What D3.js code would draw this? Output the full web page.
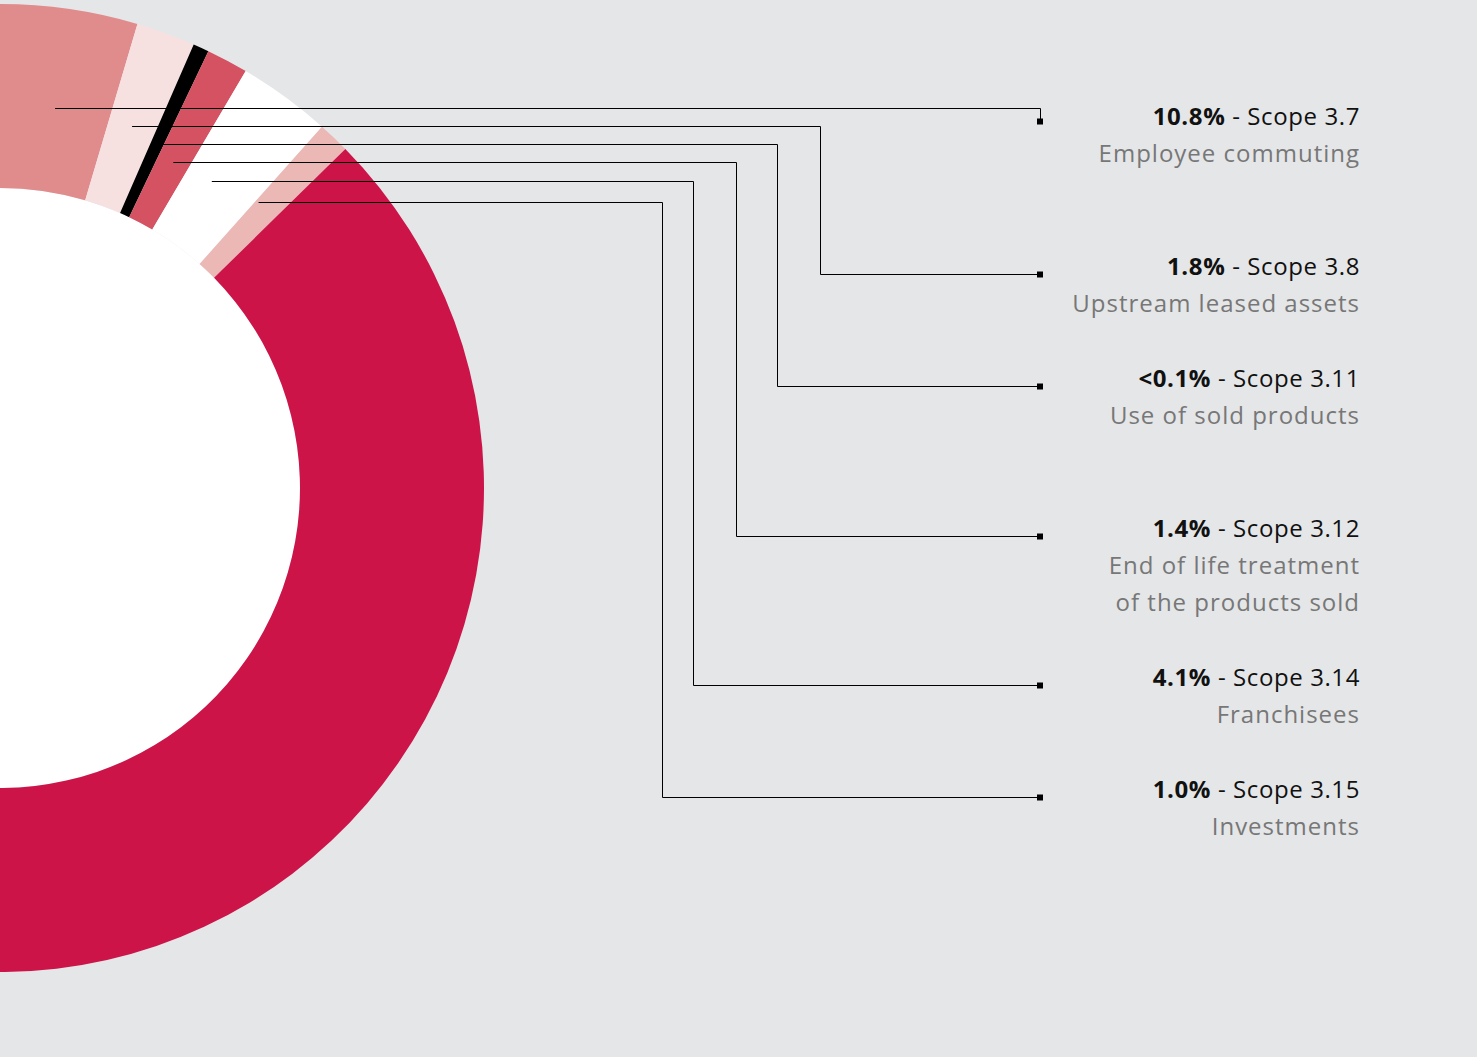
<!DOCTYPE html>
<html>
<head>
<meta charset="utf-8">
<script src="https://cdn.jsdelivr.net/npm/d3@7"></script>
<style>
  html, body { margin: 0; padding: 0; background: #e5e6e8; }
  svg { display: block; }
  text { font-family: "Open Sans", sans-serif; }
</style>
</head>
<body>
<svg id="chart"></svg>
<script>
// slice shares as drawn (percent of the ring), in ring order clockwise from the top
const categories = ['Scope 3.7', 'Scope 3.8', 'Scope 3.11', 'Scope 3.12', 'Scope 3.14', 'Scope 3.15', 'Other scopes'];
const sliceShares = [10.8, 1.97, 0.53, 1.39, 3.11, 1.06, 81.1];
const sliceColors = ['#e08b8c', '#f7e1e0', '#000000', '#d45262', '#ffffff', '#ebb8b6', '#cc1449'];

// legend texts
const pctLabels = ['10.8%', '1.8%', '<0.1%', '1.4%', '4.1%', '1.0%'];
const scopeLabels = ['Scope 3.7', 'Scope 3.8', 'Scope 3.11', 'Scope 3.12', 'Scope 3.14', 'Scope 3.15'];
const descLabels = [
  ['Employee commuting'],
  ['Upstream leased assets'],
  ['Use of sold products'],
  ['End of life treatment', 'of the products sold'],
  ['Franchisees'],
  ['Investments']
];

const W = 1477, H = 1057;
const cx = 0, cy = 488, rIn = 300, rOut = 484;
const startDeg = -22.4;

// leader layout
const runY = [108, 126, 144, 162, 181, 202];
const elbowX = [1040, 820, 777, 736, 693, 662];
const rowY = [121, 274, 386, 536, 685, 797];
const markerX = 1040, textX = 1360, lineGap = 37;

const svg = d3.select('#chart').attr('width', W).attr('height', H);
svg.append('rect').attr('width', W).attr('height', H).attr('fill', '#e5e6e8');

const rad = Math.PI / 180;
const pie = d3.pie().sort(null).value(d => d)
              .startAngle(startDeg * rad)
              .endAngle(startDeg * rad + 2 * Math.PI);
const arcs = pie(sliceShares);
const arc = d3.arc().innerRadius(rIn).outerRadius(rOut);

const ring = svg.append('g').attr('transform', `translate(${cx},${cy})`);
ring.append('circle').attr('r', rIn).attr('fill', '#ffffff');
ring.selectAll('path.slice')
    .data(arcs)
    .join('path')
    .attr('class', 'slice')
    .attr('d', arc)
    .attr('fill', (d, i) => sliceColors[i]);

// leader lines
const leaders = svg.append('g');
for (let i = 0; i < pctLabels.length; i++) {
  const a = arcs[i];
  const a0 = Math.max(a.startAngle, 0);
  const mid = (a0 + a.endAngle) / 2 - (i >= 4 ? 1.5 * rad : 0);
  const x0 = cx + (cy - runY[i]) * Math.tan(mid);
  const pts = [[x0, runY[i] + 0.5], [elbowX[i] + 0.5, runY[i] + 0.5],
               [elbowX[i] + 0.5, rowY[i] + 0.5], [markerX, rowY[i] + 0.5]];
  leaders.append('path')
         .attr('d', d3.line()(pts))
         .attr('fill', 'none')
         .attr('stroke', '#000')
         .attr('stroke-width', 1);
  leaders.append('rect')
         .attr('x', markerX - 3)
         .attr('y', rowY[i] - 2.5)
         .attr('width', 6)
         .attr('height', 6)
         .attr('fill', '#000');
}

// labels
const labels = svg.append('g').attr('text-anchor', 'end');
for (let i = 0; i < pctLabels.length; i++) {
  const base = rowY[i] + (i === 0 ? 4 : 1);
  const t = labels.append('text')
                  .attr('x', textX)
                  .attr('y', base)
                  .attr('font-size', 24)
                  .attr('letter-spacing', 0.6)
                  .attr('fill', '#111');
  t.append('tspan').attr('font-weight', 700).text(pctLabels[i]);
  t.append('tspan').attr('font-weight', 500).text(' - ' + scopeLabels[i]);
  descLabels[i].forEach((s, j) => {
    labels.append('text')
          .attr('x', textX)
          .attr('y', base + lineGap * (j + 1))
          .attr('font-size', 24)
          .attr('letter-spacing', 1)
          .attr('fill', '#777')
          .text(s);
  });
}
</script>
</body>
</html>
